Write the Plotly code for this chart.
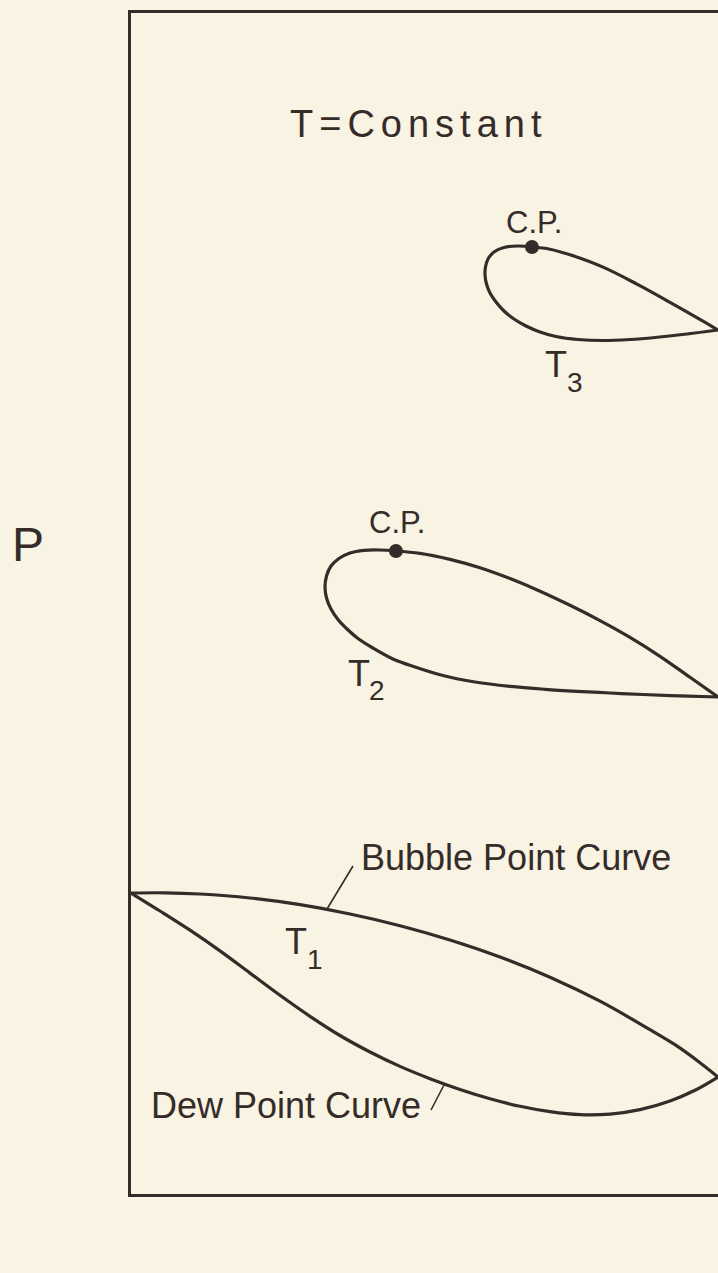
import plotly.graph_objects as go

INK = "#352c29"
PAPER = "#f9f3e3"
FONT = "Liberation Sans, Arial, Helvetica, sans-serif"

# Isotherm T1: bubble-point (upper) and dew-point (lower) branches, composition x vs pressure P
t1_bubble_x = [0.0, 0.0579, 0.1175, 0.2027, 0.2879, 0.3731, 0.4583, 0.5434, 0.6286,
               0.7138, 0.7990, 0.8842, 0.9267, 0.9693, 1.0]
t1_bubble_p = [30.1, 30.12, 30.0, 29.6, 28.93, 28.0, 26.83, 25.4, 23.7,
               21.68, 19.28, 16.43, 14.93, 13.13, 11.7]
t1_dew_x = [0.0, 0.0494, 0.1005, 0.1516, 0.2027, 0.2538, 0.3049, 0.3560, 0.4072, 0.4583, 0.5094,
            0.5605, 0.6116, 0.6627, 0.7138, 0.7649, 0.8160, 0.8671, 0.9182, 0.9608, 1.0]
t1_dew_p = [30.1, 28.3, 26.38, 24.31, 22.09, 19.87, 17.77, 15.85, 14.2, 12.76, 11.53,
            10.45, 9.52, 8.77, 8.23, 7.93, 7.99, 8.44, 9.31, 10.38, 11.7]

# Isotherm T2: loop closing at a critical point
t2_bubble_x = [0.4514, 0.4923, 0.5434, 0.5945, 0.6457, 0.6968, 0.7479, 0.7990, 0.8501,
               0.9012, 0.9523, 1.0]
t2_bubble_p = [64.3, 64.06, 63.46, 62.62, 61.54, 60.28, 58.87, 57.34, 55.66,
               53.77, 51.67, 49.7]
t2_dew_x = [0.4514, 0.4242, 0.3969, 0.3731, 0.3543, 0.3407, 0.3331, 0.3305, 0.3331, 0.3407,
            0.3526, 0.3680, 0.3867, 0.4106, 0.4463, 0.4838, 0.5315, 0.5860, 0.6457, 0.7053,
            0.7598, 0.8160, 0.8722, 0.9353, 1.0]
t2_dew_p = [64.3, 64.4, 64.37, 64.1, 63.55, 62.8, 61.8, 60.7, 59.6, 58.5,
            57.45, 56.5, 55.55, 54.65, 53.5, 52.7, 51.85, 51.2, 50.76, 50.47,
            50.27, 50.1, 49.95, 49.81, 49.7]

# Isotherm T3
t3_bubble_x = [0.6831, 0.7138, 0.7479, 0.8041, 0.8620, 0.9182, 0.9744, 1.0]
t3_bubble_p = [94.7, 94.48, 93.92, 92.69, 90.99, 89.17, 87.29, 86.4]
t3_dew_x = [0.6831, 0.6593, 0.6354, 0.6184, 0.6082, 0.6039, 0.6031, 0.6056, 0.6116, 0.6218,
            0.6354, 0.6525, 0.6729, 0.6968, 0.7240, 0.7615, 0.8041, 0.8501, 0.8927, 0.9472, 1.0]
t3_dew_p = [94.7, 94.8, 94.65, 94.2, 93.5, 92.7, 91.9, 91.0, 90.1, 89.2,
            88.3, 87.5, 86.8, 86.2, 85.75, 85.45, 85.35, 85.45, 85.65, 86.0, 86.4]

# Critical points of T2 and T3
cp_x = [0.4514, 0.6831]
cp_p = [64.3, 94.7]

# Leader lines for the curve names
bubble_leader_x = [0.3339, 0.3782]
bubble_leader_p = [28.5, 32.8]
dew_leader_x = [0.5111, 0.5349]
dew_leader_p = [8.4, 11.1]

fig = go.Figure()

curve_line = dict(color=INK, width=3.2, shape="spline", smoothing=1.0)
for xs, ps in [(t1_bubble_x, t1_bubble_p), (t1_dew_x, t1_dew_p),
               (t2_bubble_x, t2_bubble_p), (t2_dew_x, t2_dew_p),
               (t3_bubble_x, t3_bubble_p), (t3_dew_x, t3_dew_p)]:
    fig.add_trace(go.Scatter(x=xs, y=ps, mode="lines", line=curve_line,
                             hoverinfo="skip", showlegend=False))

for xs, ps in [(bubble_leader_x, bubble_leader_p), (dew_leader_x, dew_leader_p)]:
    fig.add_trace(go.Scatter(x=xs, y=ps, mode="lines", line=dict(color=INK, width=1.6),
                             hoverinfo="skip", showlegend=False))

fig.add_trace(go.Scatter(x=cp_x, y=cp_p, mode="markers",
                         marker=dict(color=INK, size=14, line=dict(width=0)),
                         hoverinfo="skip", showlegend=False))


def label(text, x, y, size, xanchor="left", xref="x"):
    fig.add_annotation(text=text, x=x, y=y, xref=xref, yref="y", showarrow=False,
                       xanchor=xanchor, yanchor="middle", align="left", borderpad=0,
                       font=dict(family=FONT, size=size, color=INK))


label("T=Constant", 0.269, 107.05, 38)
label("C.P.", 0.6865, 97.2, 31, xanchor="center")
label("C.P.", 0.4531, 67.2, 31, xanchor="center")

# isotherm names: letter T with its index set lower and smaller
label("T", 0.7036, 82.95, 36)
label("3", 0.7411, 81.2, 28)
label("T", 0.3680, 52.05, 36)
label("2", 0.4040, 50.4, 28)
label("T", 0.2606, 25.25, 36)
label("1", 0.2981, 23.5, 28)

label("Bubble Point Curve", 0.3901, 33.7, 36)
label("Dew Point Curve", 0.0324, 8.85, 36)
label("P", -0.1755, 65.0, 48, xanchor="center", xref="paper")
label("X", 0.5026, -5.8, 48, xanchor="center")

fig.update_xaxes(range=[0, 1], showline=True, mirror=True, linecolor=INK, linewidth=2.5,
                 showgrid=False, zeroline=False, showticklabels=False, ticks="")
fig.update_yaxes(range=[0, 118.1], showline=True, mirror=False, linecolor=INK, linewidth=2.5,
                 showgrid=False, zeroline=False, showticklabels=False, ticks="")

fig.update_layout(width=718, height=1273, margin=dict(l=131, r=0, t=13, b=79),
                  paper_bgcolor=PAPER, plot_bgcolor=PAPER, showlegend=False)

# widen the tracking of the heading text
spacing_js = """
var gd = document.getElementById('{plot_id}');
gd.querySelectorAll('text.annotation-text').forEach(function (t) {
  if (t.textContent === 'T=Constant') { t.style.letterSpacing = '6px'; }
});
"""

fig.write_html("out.html", post_script=spacing_js, config={"displayModeBar": False})
